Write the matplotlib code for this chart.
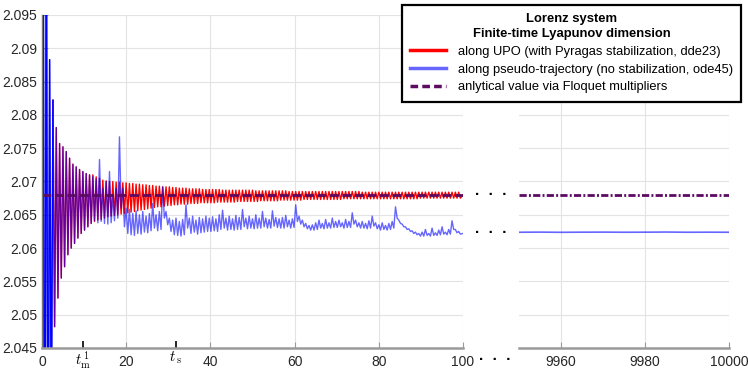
import numpy as np
import matplotlib
matplotlib.use("Agg")
import matplotlib.pyplot as plt
from matplotlib.lines import Line2D

plt.rcParams['font.family'] = ['Liberation Sans', 'DejaVu Sans']
plt.rcParams['mathtext.fontset'] = 'cm'

# --- DATA ---
T0 = 0.24        # time of first peak
PERIOD = 0.79    # oscillation period of the FTLD along the orbit
T_END = 100.0
T_M1 = 9.66
T_S = 31.75
FLOQUET = 2.068
RED_START = 3    # the stabilized run shows up from the 4th oscillation on

# red: peak / trough of each oscillation
red_hi = [2.1400, 2.1200, 2.0883, 2.0822, 2.0781, 2.0757, 2.0752, 2.0745, 2.0735, 2.0726,
          2.0722, 2.0718, 2.0715, 2.0712, 2.0710, 2.0710, 2.0707, 2.0705, 2.0702, 2.0701,
          2.0700, 2.0700, 2.0699, 2.0699, 2.0698, 2.0698, 2.0697, 2.0697, 2.0696, 2.0696,
          2.0695, 2.0695, 2.0694, 2.0694, 2.0693, 2.0693, 2.0692, 2.0692, 2.0692, 2.0691,
          2.0691, 2.0690, 2.0690, 2.0690, 2.0689, 2.0689, 2.0689, 2.0689, 2.0688, 2.0688,
          2.0688, 2.0688, 2.0688, 2.0688, 2.0687, 2.0687, 2.0687, 2.0687, 2.0687, 2.0687,
          2.0687, 2.0687, 2.0687, 2.0687, 2.0686, 2.0686, 2.0686, 2.0686, 2.0686, 2.0686,
          2.0686, 2.0686, 2.0686, 2.0686, 2.0685, 2.0685, 2.0685, 2.0685, 2.0685, 2.0685,
          2.0685, 2.0685, 2.0685, 2.0685, 2.0685, 2.0685, 2.0685, 2.0685, 2.0685, 2.0685,
          2.0685, 2.0685, 2.0685, 2.0685, 2.0685, 2.0685, 2.0684, 2.0684, 2.0684, 2.0684,
          2.0684, 2.0684, 2.0684, 2.0684, 2.0684, 2.0684, 2.0684, 2.0684, 2.0684, 2.0684,
          2.0684, 2.0684, 2.0684, 2.0684, 2.0684, 2.0684, 2.0684, 2.0684, 2.0684, 2.0684,
          2.0684, 2.0684, 2.0684, 2.0684, 2.0684, 2.0684]
red_lo = [1.9900, 2.0100, 2.0300, 2.0482, 2.0525, 2.0555, 2.0572, 2.0590, 2.0600, 2.0607,
          2.0615, 2.0622, 2.0627, 2.0632, 2.0637, 2.0640, 2.0642, 2.0643, 2.0645, 2.0647,
          2.0648, 2.0649, 2.0650, 2.0651, 2.0652, 2.0653, 2.0654, 2.0655, 2.0656, 2.0657,
          2.0658, 2.0659, 2.0660, 2.0661, 2.0662, 2.0662, 2.0663, 2.0664, 2.0664, 2.0665,
          2.0665, 2.0666, 2.0666, 2.0666, 2.0667, 2.0667, 2.0667, 2.0668, 2.0668, 2.0668,
          2.0668, 2.0668, 2.0669, 2.0669, 2.0669, 2.0669, 2.0669, 2.0669, 2.0670, 2.0670,
          2.0670, 2.0670, 2.0670, 2.0670, 2.0670, 2.0671, 2.0671, 2.0671, 2.0671, 2.0671,
          2.0671, 2.0672, 2.0672, 2.0672, 2.0672, 2.0672, 2.0672, 2.0672, 2.0673, 2.0673,
          2.0673, 2.0673, 2.0673, 2.0673, 2.0673, 2.0673, 2.0673, 2.0673, 2.0673, 2.0673,
          2.0674, 2.0674, 2.0674, 2.0674, 2.0674, 2.0674, 2.0674, 2.0674, 2.0674, 2.0674,
          2.0674, 2.0674, 2.0674, 2.0674, 2.0674, 2.0674, 2.0674, 2.0674, 2.0674, 2.0674,
          2.0674, 2.0674, 2.0674, 2.0675, 2.0675, 2.0675, 2.0675, 2.0675, 2.0675, 2.0675,
          2.0675, 2.0675, 2.0675, 2.0675, 2.0675, 2.0675]
red_last = 2.0680

# blue follows red for the first 15 oscillations, then drifts away
BLUE_SPLIT = 15
blue_tail_hi = [2.0708, 2.0704, 2.0733, 2.0690, 2.0700, 2.0715, 2.0680, 2.0690, 2.0767, 2.0690,
                2.0660, 2.0658, 2.0652, 2.0656, 2.0650, 2.0655, 2.0648, 2.0652, 2.0667, 2.0650,
                2.0655, 2.0692, 2.0655, 2.0645, 2.0642, 2.0645, 2.0640, 2.0643, 2.0665, 2.0645,
                2.0648, 2.0642, 2.0646, 2.0644, 2.0648, 2.0645, 2.0647, 2.0644, 2.0650, 2.0657,
                2.0645, 2.0648, 2.0644, 2.0649, 2.0646, 2.0658, 2.0645, 2.0648, 2.0644, 2.0650,
                2.0645, 2.0655, 2.0645, 2.0643, 2.0656, 2.0646, 2.0644, 2.0646, 2.0649, 2.0642,
                2.0644, 2.0665, 2.0648, 2.0642, 2.0637, 2.0634, 2.0635, 2.0638, 2.0642, 2.0637,
                2.0643, 2.0638, 2.0645, 2.0640, 2.0642, 2.0638, 2.0643, 2.0640, 2.0653, 2.0642,
                2.0638, 2.0640, 2.0637, 2.0641, 2.0648, 2.0638, 2.0635, 2.0638, 2.0634, 2.0637,
                2.0640, 2.0662, 2.0642, 2.0636, 2.0632, 2.0629, 2.0626, 2.0624, 2.0622, 2.0624,
                2.0628, 2.0622, 2.0630, 2.0623, 2.0627, 2.0632, 2.0624, 2.0628, 2.0641, 2.0628,
                2.0625]
blue_tail_lo = [2.0641, 2.0638, 2.0640, 2.0637, 2.0636, 2.0638, 2.0641, 2.0645, 2.0660, 2.0632,
                2.0622, 2.0620, 2.0619, 2.0622, 2.0621, 2.0624, 2.0623, 2.0626, 2.0630, 2.0626,
                2.0628, 2.0645, 2.0635, 2.0625, 2.0620, 2.0619, 2.0618, 2.0620, 2.0630, 2.0622,
                2.0624, 2.0621, 2.0623, 2.0624, 2.0625, 2.0625, 2.0626, 2.0625, 2.0628, 2.0630,
                2.0627, 2.0628, 2.0627, 2.0628, 2.0628, 2.0632, 2.0629, 2.0630, 2.0629, 2.0630,
                2.0630, 2.0632, 2.0630, 2.0630, 2.0633, 2.0631, 2.0630, 2.0630, 2.0632, 2.0630,
                2.0631, 2.0640, 2.0636, 2.0632, 2.0629, 2.0627, 2.0627, 2.0628, 2.0630, 2.0629,
                2.0630, 2.0630, 2.0631, 2.0631, 2.0632, 2.0630, 2.0631, 2.0631, 2.0636, 2.0632,
                2.0630, 2.0630, 2.0629, 2.0630, 2.0633, 2.0629, 2.0627, 2.0628, 2.0627, 2.0628,
                2.0630, 2.0645, 2.0637, 2.0632, 2.0628, 2.0625, 2.0622, 2.0620, 2.0618, 2.0618,
                2.0619, 2.0618, 2.0619, 2.0619, 2.0620, 2.0621, 2.0620, 2.0621, 2.0628, 2.0623,
                2.0621]
blue_last = 2.0622

# far end of the run (right panel)
far_t = [9950, 9955, 9960, 9965, 9970, 9975, 9980, 9985, 9990, 9995, 10000]
far_blue = [2.06238, 2.06240, 2.06237, 2.06239, 2.06240, 2.06238, 2.06239, 2.06241, 2.06238, 2.06239, 2.06238]

left_ticks = [0, 20, 40, 60, 80, 100]
right_ticks = [9960, 9980, 10000]
y_ticks = [2.045, 2.05, 2.055, 2.06, 2.065, 2.07, 2.075, 2.08, 2.085, 2.09, 2.095]

RED = '#ff0000'
BLUE = '#0000ff'
BLUE_ALPHA = 0.6
PURPLE = '#5c0a62'
GRID = '#e3e3e3'
AXC = '#9a9a9a'


def zigzag(hi, lo, last):
    n = len(hi)
    tp = T0 + PERIOD * np.arange(n)
    tt = tp + PERIOD / 2
    t = np.empty(2 * n)
    y = np.empty(2 * n)
    t[0::2], t[1::2] = tp, tt
    y[0::2], y[1::2] = hi, lo
    return np.append(t, T_END), np.append(y, last)


def style_axes(ax):
    ax.set_ylim(2.045, 2.095)
    ax.set_yticks(y_ticks)
    ax.set_yticklabels(['%g' % v for v in y_ticks])
    ax.grid(True, which='major', color=GRID, lw=0.8)
    ax.set_axisbelow(True)
    for s in ['top', 'right']:
        ax.spines[s].set_visible(False)
    ax.spines['bottom'].set_color(AXC)
    ax.spines['bottom'].set_linewidth(1.8)
    ax.tick_params(axis='both', which='major', direction='in', length=4,
                   color=AXC, labelsize=10, labelcolor='#262626')
    ax.tick_params(axis='x', which='major', pad=5)


fig = plt.figure(figsize=(7.48, 3.71), dpi=100)
ax1 = fig.add_axes([0.0561, 0.062, 0.5628, 0.8976])
ax2 = fig.add_axes([0.6932, 0.062, 0.2818, 0.8976])

t_red, y_red = zigzag(red_hi, red_lo, red_last)
t_blue, y_blue = zigzag(red_hi[:BLUE_SPLIT] + blue_tail_hi,
                        red_lo[:BLUE_SPLIT] + blue_tail_lo, blue_last)

ax1.plot(t_red[2 * RED_START:], y_red[2 * RED_START:], color=RED, lw=1.0)
ax1.plot(t_blue, y_blue, color=BLUE, lw=1.0, alpha=BLUE_ALPHA)
ax1.plot(t_blue[:2 * RED_START + 1], y_blue[:2 * RED_START + 1], color=BLUE, lw=1.0)
ax1.plot([0, T_END], [FLOQUET, FLOQUET], color=PURPLE, lw=2.0,
         linestyle=(0, (3.2, 1.3)))
style_axes(ax1)
ax1.set_xlim(0, 100)
ax1.set_xticks(left_ticks)
ax1.set_xticks([T_M1, T_S], minor=True)
ax1.set_xticklabels([r'$t^{\,1}_{\mathrm{m}}$', r'$t_{\;\mathrm{s}}$'], minor=True, fontsize=10.5)
ax1.tick_params(axis='x', which='minor', direction='in', length=5, width=1.2,
                color='black', pad=1)
ax1.spines['left'].set_color('#777777')
ax1.spines['left'].set_linewidth(1.0)

ax2.plot(far_t, far_blue, color=BLUE, lw=1.2, alpha=BLUE_ALPHA)
ax2.plot([far_t[0], far_t[-1]], [FLOQUET, FLOQUET], color=PURPLE, lw=2.0,
         linestyle=(0, (2.6, 0.8, 0.7, 0.8)))
style_axes(ax2)
ax2.set_xlim(9950, 10000)
ax2.set_xticks(right_ticks)
ax2.spines['left'].set_visible(False)
ax2.tick_params(axis='y', left=False, labelleft=False)

# break marks between the two panels
dots = '\u00b7  \u00b7  \u00b7'
for yv in [FLOQUET, blue_last]:
    ax1.text(106.6, yv, dots, ha='center', va='center', fontsize=11,
             fontweight='bold', clip_on=False)
ax1.text(107.6, -0.036, dots, transform=ax1.get_xaxis_transform(), ha='center',
         va='center', fontsize=11, fontweight='bold', clip_on=False)

handles = [Line2D([], [], color=RED, lw=2.5),
           Line2D([], [], color=BLUE, alpha=BLUE_ALPHA, lw=2.5),
           Line2D([], [], color=PURPLE, lw=2.5, linestyle=(0, (2.2, 1.2)))]
labels = ['along UPO (with Pyragas stabilization, dde23)',
          'along pseudo-trajectory (no stabilization, ode45)',
          'anlytical value via Floquet multipliers']
leg = fig.legend(handles, labels, loc='upper right', bbox_to_anchor=(0.991, 0.987),
                 title='Lorenz system\nFinite-time Lyapunov dimension',
                 title_fontproperties={'weight': 'bold', 'size': 9.4},
                 fontsize=9.3, frameon=True, fancybox=False, handlelength=2.8,
                 handletextpad=0.9, borderpad=0.65, labelspacing=0.45,
                 borderaxespad=0.0)
leg.get_title().set_multialignment('center')
leg.get_title().set_linespacing(1.3)
leg.get_frame().set_edgecolor('black')
leg.get_frame().set_linewidth(1.6)
leg.get_frame().set_alpha(1)

fig.savefig('out.png', dpi=100)
